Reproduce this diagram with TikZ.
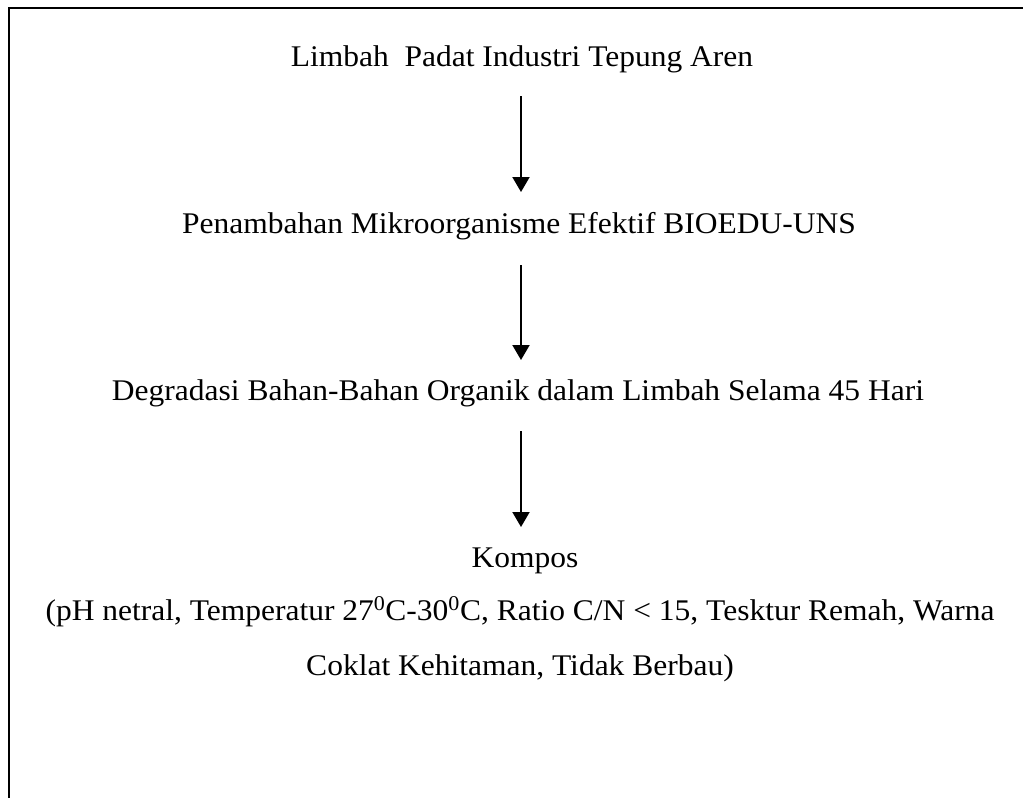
\documentclass[tikz,border=0pt]{standalone}
\usepackage{fontspec}
\setmainfont{Liberation Serif}
\usetikzlibrary{arrows.meta, calc, positioning}
\tikzset{
	stage/.style={anchor=base, inner sep=0pt, font=\fontsize{30}{36}\selectfont, xscale=1.05},
	flow/.style={line width=2pt, -{Triangle[width=17pt, length=15pt]}},
	% frame of the page
	frame/.style={line width=2pt, black},
}

\begin{document}
\begin{tikzpicture}[x=1pt, y=-1pt]
		
		\useasboundingbox (0,0) rectangle (1023,798);
		\draw [frame] (9,798) -- (9,8) -- (1023,8);
		
		\coordinate (ax) at (521,0);
		
		\node (limbah) [stage] at (522,66) {Limbah\ \ Padat Industri Tepung Aren};
		
		\node (mikro) [stage] at (519,233) {Penambahan Mikroorganisme Efektif BIOEDU-UNS};
		
		\node (degradasi) [stage] at (518,400) {Degradasi Bahan-Bahan Organik dalam Limbah Selama 45 Hari};
		
		\node (kompos) [stage] at (525,567) {Kompos};
		
		\node (ciri1) [stage] at (520,620) {(pH netral, Temperatur 27\textsuperscript{0}C-30\textsuperscript{0}C, Ratio C/N < 15, Tesktur Remah, Warna};
		
		\node (ciri2) [stage] at (520,675) {Coklat Kehitaman, Tidak Berbau)};
		
		\begin{scope}[flow]
			\draw ($(limbah.base -| ax)+(0pt,-30pt)$) -- ($(mikro.base -| ax)+(0pt,41pt)$);
			\draw ($(mikro.base -| ax)+(0pt,-32pt)$) -- ($(degradasi.base -| ax)+(0pt,40pt)$);
			\draw ($(degradasi.base -| ax)+(0pt,-31pt)$) -- ($(kompos.base -| ax)+(0pt,40pt)$);
		\end{scope}
	\end{tikzpicture}
\end{document}
